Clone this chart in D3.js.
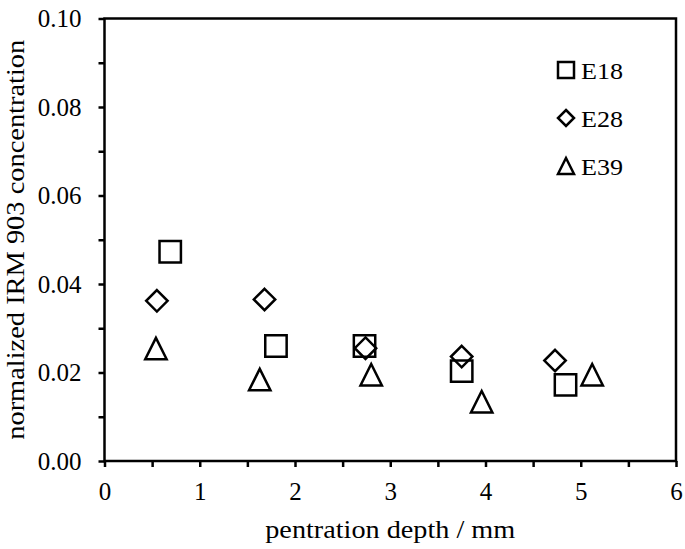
<!DOCTYPE html>
<html>
<head>
<meta charset="utf-8">
<script src="https://cdn.jsdelivr.net/npm/d3@7"></script>
<style>
  body { margin: 0; background: #fff; }
  svg text { font-family: "Liberation Serif", "Times New Roman", "DejaVu Serif", serif; fill: #000; }
</style>
</head>
<body>
<div id="chart"></div>
<script>
// values
var seriesNames = ["E18", "E28", "E39"];
var e18Depth = [0.69, 1.80, 2.73, 3.75, 4.84];
var e18Conc  = [0.0473, 0.0260, 0.0260, 0.0203, 0.0172];
var e28Depth = [0.55, 1.68, 2.74, 3.75, 4.73];
var e28Conc  = [0.0362, 0.0365, 0.0255, 0.0236, 0.0227];
var e39Depth = [0.54, 1.63, 2.80, 3.96, 5.12];
var e39Conc  = [0.0254, 0.0184, 0.0195, 0.0134, 0.0195];
var xTicks = [0, 1, 2, 3, 4, 5, 6];
var yTicks = [0, 0.02, 0.04, 0.06, 0.08, 0.10];

var width = 685, height = 549;
var margin = {top: 18.5, right: 9, bottom: 88, left: 104.5};
var serif = "'Liberation Serif', 'Times New Roman', 'DejaVu Serif', serif";

var svg = d3.select("#chart").append("svg")
    .attr("width", width)
    .attr("height", height);

var xScale = d3.scaleLinear()
    .domain([0, 6])
    .range([margin.left, width - margin.right]);
var yScale = d3.scaleLinear()
    .domain([0, 0.10])
    .range([height - margin.bottom, margin.top]);

// frame
svg.append("rect")
    .attr("x", xScale(0)).attr("y", yScale(0.10))
    .attr("width", xScale(6) - xScale(0))
    .attr("height", yScale(0) - yScale(0.10))
    .style("fill", "none").style("stroke", "#000").style("stroke-width", 2.5);

// minor ticks
var xAxisMinor = d3.axisBottom(xScale).tickValues(d3.range(0.5, 6, 1)).tickSize(6).tickFormat("");
var yAxisMinor = d3.axisLeft(yScale).tickValues(d3.range(0.01, 0.1, 0.02)).tickSize(6).tickFormat("");
svg.append("g").attr("transform", "translate(0," + yScale(0) + ")").call(xAxisMinor);
svg.append("g").attr("transform", "translate(" + xScale(0) + ",0)").call(yAxisMinor);

var xAxis = d3.axisBottom(xScale).tickValues(xTicks).tickSize(6).tickPadding(15).tickFormat(d3.format("d"));
var yAxis = d3.axisLeft(yScale).tickValues(yTicks).tickSize(6).tickPadding(17).tickFormat(d3.format(".2f"));
svg.append("g").attr("class", "axis").attr("transform", "translate(0," + yScale(0) + ")").call(xAxis);
svg.append("g").attr("class", "axis").attr("transform", "translate(" + xScale(0) + ",0)").call(yAxis);

svg.selectAll(".domain").remove();
svg.selectAll(".tick line").style("stroke", "#000").style("stroke-width", 2.5);
svg.selectAll(".axis").attr("font-family", null);
svg.selectAll(".axis text").style("font-family", serif).style("font-size", "25px");

// axis titles (the original font is a little wider than Times, so stretch to length)
svg.append("text")
    .attr("x", (xScale(0) + xScale(6)) / 2)
    .attr("y", 538)
    .attr("text-anchor", "middle")
    .attr("textLength", 250)
    .attr("lengthAdjust", "spacingAndGlyphs")
    .style("font-family", serif)
    .style("font-size", "25px")
    .text("pentration depth / mm");

svg.append("text")
    .attr("transform", "translate(24," + (yScale(0.05)) + ") rotate(-90)")
    .attr("text-anchor", "middle")
    .attr("textLength", 400)
    .attr("lengthAdjust", "spacingAndGlyphs")
    .style("font-family", serif)
    .style("font-size", "25px")
    .text("normalized IRM 903 concentration");

// markers
var data = [
  e18Depth.map(function(d, i) { return {x: d, y: e18Conc[i]}; }),
  e28Depth.map(function(d, i) { return {x: d, y: e28Conc[i]}; }),
  e39Depth.map(function(d, i) { return {x: d, y: e39Conc[i]}; })
];

function markerPath(k, s) {
  if (k == 1) {
    // diamond
    return "M0," + (-s) + "L" + s + ",0L0," + s + "L" + (-s) + ",0Z";
  }
  if (k == 2) {
    // triangle, centered on its box
    return "M0," + (-s) + "L" + s + "," + s + "L" + (-s) + "," + s + "Z";
  }
  return "M" + (-s) + "," + (-s) + "H" + s + "V" + s + "H" + (-s) + "Z";
}

data.forEach(function(series, k) {
  svg.append("g").selectAll("path")
    .data(series)
    .enter().append("path")
    .attr("transform", function(d) { return "translate(" + xScale(d.x) + "," + yScale(d.y) + ")"; })
    .attr("d", markerPath(k, 10.7))
    .style("fill", "none")
    .style("stroke", "#000")
    .style("stroke-width", 2.5);
});

// legend
var legendY = [70, 118, 166];
var legend = svg.append("g");
seriesNames.forEach(function(name, k) {
  legend.append("path")
    .attr("transform", "translate(566," + legendY[k] + ")")
    .attr("d", markerPath(k, 8))
    .style("fill", "none").style("stroke", "#000").style("stroke-width", 2.5);
  legend.append("text")
    .attr("x", 581)
    .attr("y", legendY[k] + 8.5)
    .attr("textLength", 42)
    .attr("lengthAdjust", "spacingAndGlyphs")
    .style("font-family", serif)
    .style("font-size", "24px")
    .text(name);
});
</script>
</body>
</html>
